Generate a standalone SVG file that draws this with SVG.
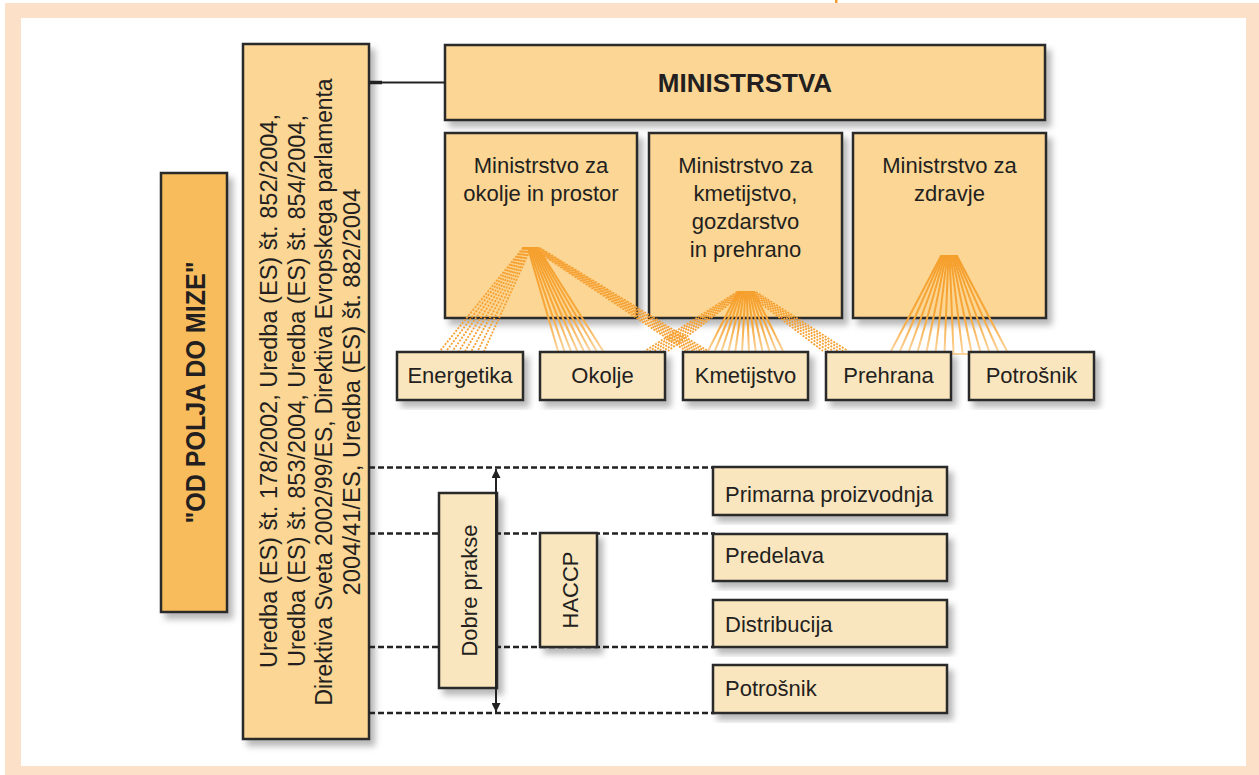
<svg xmlns="http://www.w3.org/2000/svg" width="1259" height="775" viewBox="0 0 1259 775">
<defs>
<filter id="sh" x="-10%" y="-10%" width="130%" height="130%">
<feDropShadow dx="5" dy="6" stdDeviation="3" flood-color="#000" flood-opacity="0.28"/>
</filter>
<linearGradient id="gOk" gradientUnits="userSpaceOnUse" x1="0" y1="248" x2="0" y2="352"><stop offset="0" stop-color="#f59f2c"/><stop offset="0.65" stop-color="#f7a739"/><stop offset="1" stop-color="#fbd5a0"/></linearGradient>
<linearGradient id="gKm" gradientUnits="userSpaceOnUse" x1="0" y1="292" x2="0" y2="352"><stop offset="0" stop-color="#f59f2c"/><stop offset="0.55" stop-color="#f7a739"/><stop offset="1" stop-color="#fbd5a0"/></linearGradient>
<linearGradient id="gZd" gradientUnits="userSpaceOnUse" x1="0" y1="256" x2="0" y2="352"><stop offset="0" stop-color="#f59f2c"/><stop offset="0.65" stop-color="#f7a739"/><stop offset="1" stop-color="#fbd5a0"/></linearGradient>
<marker id="ar" viewBox="0 0 10 10" refX="10" refY="5" markerWidth="9" markerHeight="9" markerUnits="userSpaceOnUse" orient="auto-start-reverse">
<path d="M0,0 L10,5 L0,10 z" fill="#222"/>
</marker>
<style>
.t{font-family:"Liberation Sans",Arial,sans-serif;font-size:22px;fill:#231f20}
.r{font-family:"Liberation Sans",Arial,sans-serif;font-size:23px;fill:#231f20}
.b{font-family:"Liberation Sans",Arial,sans-serif;font-weight:bold;fill:#231f20}
.m{fill:#fbd694;stroke:#2b2b2b;stroke-width:2.5}
.l{fill:#fae6be;stroke:#2b2b2b;stroke-width:2.5}
.o{fill:#f9bc5c;stroke:#2b2b2b;stroke-width:2.5}
.dash{stroke:#222;stroke-width:2.6;stroke-dasharray:6 3;fill:none}
.dot{stroke:#f6a133;stroke-width:1.8;stroke-dasharray:2 1.4;fill:none}
.sA{stroke:url(#gOk);stroke-width:2;fill:none}
.sB{stroke:url(#gKm);stroke-width:2;fill:none}
.sC{stroke:url(#gZd);stroke-width:2;fill:none}
</style>
</defs>
<rect x="0" y="0" width="1259" height="775" fill="#fff"/>
<rect x="5" y="3" width="1254" height="772" fill="#fde0c8"/>
<rect x="21" y="18" width="1225" height="748" fill="#fff"/>
<rect x="835" y="0" width="2.5" height="3" fill="#f39a2e"/>

<g id="od-polja">
<rect class="o" x="161" y="173" width="66" height="439" filter="url(#sh)"/>
<text class="b" font-size="27" text-anchor="middle" textLength="262" lengthAdjust="spacingAndGlyphs" transform="translate(205,392.5) rotate(-90)">"OD POLJA DO MIZE"</text>
</g>

<g id="uredbe">
<rect class="m" x="243" y="44" width="126" height="695" filter="url(#sh)"/>
<g class="r" text-anchor="middle">
<text transform="translate(277,391) rotate(-90)" textLength="554" lengthAdjust="spacingAndGlyphs">Uredba (ES) št. 178/2002, Uredba (ES) št. 852/2004,</text>
<text transform="translate(304.5,391) rotate(-90)" textLength="552" lengthAdjust="spacingAndGlyphs">Uredba (ES) št. 853/2004, Uredba (ES) št. 854/2004,</text>
<text transform="translate(332,392) rotate(-90)" textLength="627" lengthAdjust="spacingAndGlyphs">Direktiva Sveta 2002/99/ES, Direktiva Evropskega parlamenta</text>
<text transform="translate(359.5,392) rotate(-90)" textLength="407" lengthAdjust="spacingAndGlyphs">2004/41/ES, Uredba (ES) št. 882/2004</text>
</g>
</g>

<g id="ministrstva">
<rect class="m" x="445" y="45" width="600" height="75" filter="url(#sh)"/>
<text class="b" font-size="26" x="745" y="92" text-anchor="middle">MINISTRSTVA</text>
</g>

<g id="min-okolje">
<rect class="m" x="445" y="133" width="192" height="185" filter="url(#sh)"/>
<text class="t" x="541" y="173" text-anchor="middle">Ministrstvo za</text>
<text class="t" x="541" y="201" text-anchor="middle">okolje in prostor</text>
</g>
<g id="min-kmetijstvo">
<rect class="m" x="649" y="133" width="193" height="185" filter="url(#sh)"/>
<text class="t" x="745.5" y="173" text-anchor="middle">Ministrstvo za</text>
<text class="t" x="745.5" y="201" text-anchor="middle">kmetijstvo,</text>
<text class="t" x="745.5" y="229" text-anchor="middle">gozdarstvo</text>
<text class="t" x="745.5" y="257" text-anchor="middle">in prehrano</text>
</g>
<g id="min-zdravje">
<rect class="m" x="853" y="133" width="193" height="185" filter="url(#sh)"/>
<text class="t" x="949.5" y="173" text-anchor="middle">Ministrstvo za</text>
<text class="t" x="949.5" y="201" text-anchor="middle">zdravje</text>
</g>

<g id="connectors">
<line x1="369" y1="82.5" x2="445" y2="82.5" stroke="#222" stroke-width="2"/>
<line x1="369" y1="82.5" x2="382" y2="82.5" stroke="#222" stroke-width="3.5"/>
<g class="dot">
<line x1="523" y1="248" x2="440" y2="351"/><line x1="524.1" y1="248" x2="446.3" y2="351"/>
<line x1="525.3" y1="248" x2="452.6" y2="351"/><line x1="526.4" y1="248" x2="458.9" y2="351"/>
<line x1="527.6" y1="248" x2="465.1" y2="351"/><line x1="528.7" y1="248" x2="471.4" y2="351"/>
<line x1="529.9" y1="248" x2="477.7" y2="351"/><line x1="531" y1="248" x2="484" y2="351"/>
</g>
<g class="sA">
<line x1="528" y1="248" x2="558" y2="351"/><line x1="529.4" y1="248" x2="564.4" y2="351"/>
<line x1="530.9" y1="248" x2="570.9" y2="351"/><line x1="532.3" y1="248" x2="577.3" y2="351"/>
<line x1="533.7" y1="248" x2="583.7" y2="351"/><line x1="535.1" y1="248" x2="590.1" y2="351"/>
<line x1="536.6" y1="248" x2="596.6" y2="351"/><line x1="538" y1="248" x2="603" y2="351"/>
<line x1="522" y1="248" x2="539" y2="248" stroke="#f59f2c"/>
</g>
<g class="dot">
<line x1="532" y1="248" x2="686" y2="351"/><line x1="533.3" y1="248" x2="689.7" y2="351"/>
<line x1="534.7" y1="248" x2="693.3" y2="351"/><line x1="536" y1="248" x2="697" y2="351"/>
<line x1="537.3" y1="248" x2="700.7" y2="351"/><line x1="538.7" y1="248" x2="704.3" y2="351"/>
<line x1="540" y1="248" x2="708" y2="351"/>
</g>
<g class="dot">
<line x1="737" y1="292" x2="645" y2="351"/><line x1="738.6" y1="292" x2="649.6" y2="351"/>
<line x1="740.2" y1="292" x2="654.2" y2="351"/><line x1="741.8" y1="292" x2="658.8" y2="351"/>
<line x1="743.4" y1="292" x2="663.4" y2="351"/><line x1="745" y1="292" x2="668" y2="351"/>
</g>
<g class="sB">
<line x1="738" y1="292" x2="708" y2="351"/><line x1="739.5" y1="292" x2="714.8" y2="351"/>
<line x1="740.9" y1="292" x2="721.6" y2="351"/><line x1="742.4" y1="292" x2="728.5" y2="351"/>
<line x1="743.8" y1="292" x2="735.3" y2="351"/><line x1="745.3" y1="292" x2="742.1" y2="351"/>
<line x1="746.7" y1="292" x2="748.9" y2="351"/><line x1="748.2" y1="292" x2="755.7" y2="351"/>
<line x1="749.6" y1="292" x2="762.5" y2="351"/><line x1="751.1" y1="292" x2="769.4" y2="351"/>
<line x1="752.5" y1="292" x2="776.2" y2="351"/><line x1="754" y1="292" x2="783" y2="351"/>
<line x1="737" y1="292" x2="755" y2="292" stroke="#f59f2c"/>
</g>
<g class="dot">
<line x1="746" y1="292" x2="823" y2="351"/><line x1="748" y1="292" x2="828" y2="351"/>
<line x1="750" y1="292" x2="833" y2="351"/><line x1="752" y1="292" x2="838" y2="351"/>
<line x1="754" y1="292" x2="843" y2="351"/><line x1="756" y1="292" x2="848" y2="351"/>
</g>
<g class="sC">
<line x1="941" y1="256" x2="890" y2="353"/><line x1="942.2" y1="256" x2="899.1" y2="353"/>
<line x1="943.5" y1="256" x2="908.2" y2="353"/><line x1="944.7" y1="256" x2="917.2" y2="353"/>
<line x1="945.9" y1="256" x2="926.3" y2="353"/><line x1="947.2" y1="256" x2="935.4" y2="353"/>
<line x1="948.4" y1="256" x2="944.5" y2="353"/><line x1="949.6" y1="256" x2="953.5" y2="353"/>
<line x1="950.8" y1="256" x2="962.6" y2="353"/><line x1="952.1" y1="256" x2="971.7" y2="353"/>
<line x1="953.3" y1="256" x2="980.8" y2="353"/><line x1="954.5" y1="256" x2="989.8" y2="353"/>
<line x1="955.8" y1="256" x2="998.9" y2="353"/><line x1="957" y1="256" x2="1008" y2="353"/>
<line x1="940" y1="256" x2="958" y2="256" stroke="#f59f2c"/>
<line x1="945" y1="354" x2="972" y2="354"/>
</g>
<line class="dash" x1="369" y1="467.5" x2="715" y2="467.5"/>
<line class="dash" x1="369" y1="533.5" x2="715" y2="533.5"/>
<line class="dash" x1="369" y1="647" x2="715" y2="647"/>
<line class="dash" x1="369" y1="713" x2="715" y2="713"/>
</g>

<g id="energetika">
<rect class="l" x="397" y="352" width="126" height="48" filter="url(#sh)"/>
<text class="t" x="460" y="383" text-anchor="middle">Energetika</text>
</g>
<g id="okolje">
<rect class="l" x="540" y="352" width="125" height="48" filter="url(#sh)"/>
<text class="t" x="602.5" y="383" text-anchor="middle">Okolje</text>
</g>
<g id="kmetijstvo">
<rect class="l" x="683" y="352" width="125" height="48" filter="url(#sh)"/>
<text class="t" x="745.5" y="383" text-anchor="middle">Kmetijstvo</text>
</g>
<g id="prehrana">
<rect class="l" x="826" y="352" width="125" height="48" filter="url(#sh)"/>
<text class="t" x="888.5" y="383" text-anchor="middle">Prehrana</text>
</g>
<g id="potrosnik-top">
<rect class="l" x="969" y="352" width="125" height="48" filter="url(#sh)"/>
<text class="t" x="1031.5" y="383" text-anchor="middle">Potrošnik</text>
</g>

<g id="dobre-prakse">
<rect class="l" x="439" y="493" width="58" height="195" filter="url(#sh)"/>
<text class="t" text-anchor="middle" transform="translate(477,590.5) rotate(-90)">Dobre prakse</text>
</g>
<g id="dobre-prakse-arrow">
<line x1="496" y1="469" x2="496" y2="712" stroke="#222" stroke-width="2" marker-start="url(#ar)" marker-end="url(#ar)"/>
</g>
<g id="haccp">
<rect class="l" x="540" y="533" width="57" height="114" filter="url(#sh)"/>
<text class="t" text-anchor="middle" transform="translate(578,590) rotate(-90)">HACCP</text>
</g>

<g id="primarna">
<rect class="l" x="713" y="467" width="234" height="48" filter="url(#sh)"/>
<text class="t" x="725" y="502">Primarna proizvodnja</text>
</g>
<g id="predelava">
<rect class="l" x="713" y="534" width="234" height="47" filter="url(#sh)"/>
<text class="t" x="725" y="563">Predelava</text>
</g>
<g id="distribucija">
<rect class="l" x="713" y="600" width="234" height="47" filter="url(#sh)"/>
<text class="t" x="725" y="632">Distribucija</text>
</g>
<g id="potrosnik">
<rect class="l" x="713" y="665" width="234" height="48" filter="url(#sh)"/>
<text class="t" x="725" y="696">Potrošnik</text>
</g>
</svg>
